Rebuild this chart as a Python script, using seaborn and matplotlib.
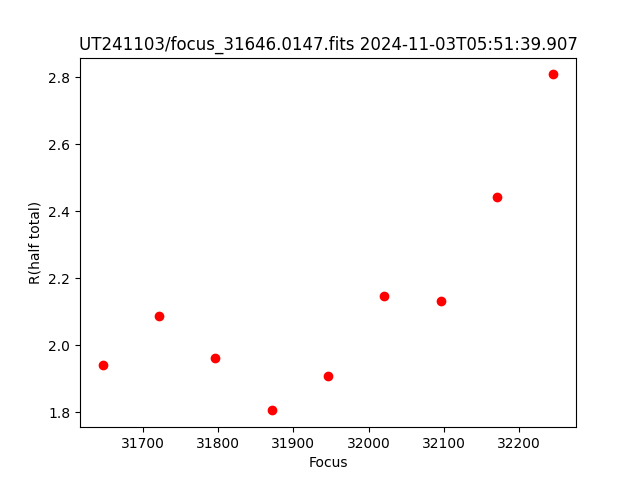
import numpy as np
import pandas as pd
import matplotlib
matplotlib.use('Agg')
import matplotlib.pyplot as plt
import seaborn as sns

focus = [31646, 31721, 31796, 31871, 31946, 32021, 32096, 32171, 32246]
r_half = [1.943, 2.087, 1.961, 1.806, 1.910, 2.148, 2.134, 2.442, 2.809]

df = pd.DataFrame({'Focus': focus, 'R(half total)': r_half})

fig, ax = plt.subplots(figsize=(6.4, 4.8), dpi=100)
sns.scatterplot(data=df, x='Focus', y='R(half total)', ax=ax,
                color='red', s=36, edgecolor='red', linewidth=1, legend=False)
ax.set_title('UT241103/focus_31646.0147.fits 2024-11-03T05:51:39.907')
ax.set_xlabel('Focus')
ax.set_ylabel('R(half total)')
fig.savefig('out.png')
